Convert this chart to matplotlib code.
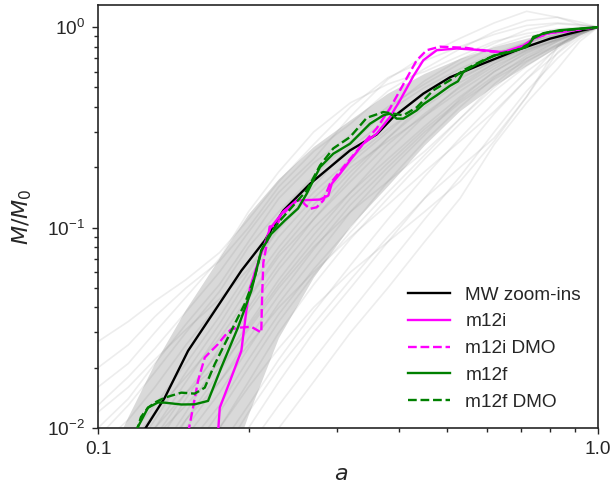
import matplotlib
matplotlib.use("Agg")
import matplotlib.pyplot as plt
from matplotlib.ticker import FixedLocator, NullFormatter, FixedFormatter, LogLocator

plt.rcParams['font.family'] = ['Liberation Sans', 'DejaVu Sans']
plt.rcParams['mathtext.fontset'] = 'dejavusans'

# ---------------- data ----------------
grid_a = [0.1, 0.115, 0.13, 0.15, 0.175, 0.2, 0.23, 0.27, 0.32, 0.38, 0.45, 0.53,
          0.62, 0.72, 0.83, 0.92, 1.0]

band_upper = [0.0054, 0.0113, 0.0209, 0.0388, 0.0699, 0.116, 0.174, 0.252, 0.343,
              0.465, 0.584, 0.695, 0.794, 0.875, 0.944, 0.974, 1.0]
band_lower = [0.0015, 0.0020, 0.0026, 0.0034, 0.0045, 0.0115, 0.028, 0.056, 0.101,
              0.160, 0.256, 0.38, 0.506, 0.639, 0.79, 0.905, 1.0]

halo_histories = [
    [0.027, 0.034, 0.043, 0.055, 0.075, 0.11, 0.17, 0.26, 0.40, 0.56, 0.68, 0.80, 0.92, 1.02, 1.05, 1.03, 1.0],
    [0.020, 0.026, 0.036, 0.050, 0.068, 0.10, 0.16, 0.24, 0.33, 0.48, 0.62, 0.78, 0.95, 1.08, 1.12, 1.06, 1.0],
    [0.016, 0.021, 0.030, 0.045, 0.070, 0.12, 0.19, 0.30, 0.42, 0.52, 0.60, 0.72, 0.85, 0.93, 0.98, 1.0, 1.0],
    [0.013, 0.018, 0.025, 0.038, 0.060, 0.095, 0.15, 0.22, 0.36, 0.55, 0.72, 0.88, 1.05, 1.20, 1.12, 1.03, 1.0],
    [0.010, 0.014, 0.021, 0.033, 0.052, 0.085, 0.14, 0.21, 0.29, 0.40, 0.52, 0.66, 0.80, 0.90, 0.96, 0.99, 1.0],
    [0.009, 0.013, 0.019, 0.030, 0.048, 0.080, 0.12, 0.18, 0.27, 0.38, 0.50, 0.62, 0.74, 0.84, 0.92, 0.97, 1.0],
    [0.012, 0.016, 0.022, 0.031, 0.044, 0.062, 0.10, 0.16, 0.26, 0.39, 0.54, 0.69, 0.83, 0.97, 1.04, 1.02, 1.0],
    [0.008, 0.011, 0.016, 0.026, 0.042, 0.068, 0.11, 0.17, 0.25, 0.35, 0.46, 0.58, 0.71, 0.83, 0.92, 0.97, 1.0],
    [0.006, 0.009, 0.013, 0.021, 0.036, 0.060, 0.098, 0.15, 0.22, 0.31, 0.42, 0.55, 0.68, 0.79, 0.89, 0.96, 1.0],
    [0.005, 0.007, 0.011, 0.019, 0.033, 0.056, 0.090, 0.14, 0.21, 0.30, 0.43, 0.57, 0.72, 0.84, 0.93, 0.98, 1.0],
    [0.004, 0.006, 0.010, 0.017, 0.030, 0.050, 0.080, 0.13, 0.20, 0.27, 0.36, 0.48, 0.62, 0.77, 0.88, 0.95, 1.0],
    [0.006, 0.008, 0.012, 0.018, 0.028, 0.045, 0.075, 0.12, 0.19, 0.28, 0.40, 0.53, 0.66, 0.77, 0.87, 0.95, 1.0],
    [0.003, 0.005, 0.008, 0.014, 0.025, 0.044, 0.072, 0.11, 0.17, 0.26, 0.37, 0.50, 0.64, 0.76, 0.87, 0.94, 1.0],
    [0.004, 0.006, 0.009, 0.015, 0.024, 0.040, 0.066, 0.11, 0.18, 0.28, 0.42, 0.56, 0.68, 0.78, 0.86, 0.94, 1.0],
    [0.003, 0.004, 0.007, 0.012, 0.022, 0.038, 0.062, 0.10, 0.15, 0.22, 0.32, 0.45, 0.60, 0.75, 0.87, 0.95, 1.0],
    [0.005, 0.007, 0.010, 0.015, 0.021, 0.033, 0.055, 0.092, 0.15, 0.24, 0.36, 0.51, 0.66, 0.80, 0.91, 0.97, 1.0],
    [0.002, 0.004, 0.006, 0.011, 0.019, 0.032, 0.052, 0.085, 0.14, 0.21, 0.31, 0.43, 0.57, 0.70, 0.82, 0.93, 1.0],
    [0.003, 0.004, 0.006, 0.010, 0.017, 0.028, 0.046, 0.078, 0.13, 0.20, 0.30, 0.42, 0.55, 0.68, 0.81, 0.92, 1.0],
    [0.002, 0.003, 0.005, 0.009, 0.015, 0.025, 0.042, 0.070, 0.12, 0.19, 0.29, 0.44, 0.60, 0.74, 0.86, 0.95, 1.0],
    [0.002, 0.003, 0.005, 0.008, 0.013, 0.022, 0.037, 0.062, 0.10, 0.17, 0.27, 0.40, 0.56, 0.72, 0.85, 0.94, 1.0],
    [0.002, 0.003, 0.004, 0.007, 0.012, 0.020, 0.034, 0.058, 0.095, 0.15, 0.23, 0.35, 0.50, 0.67, 0.82, 0.93, 1.0],
    [0.001, 0.002, 0.004, 0.006, 0.010, 0.017, 0.030, 0.052, 0.088, 0.14, 0.22, 0.33, 0.48, 0.64, 0.80, 0.92, 1.0],
    [0.001, 0.002, 0.003, 0.005, 0.008, 0.013, 0.022, 0.038, 0.065, 0.11, 0.18, 0.28, 0.42, 0.60, 0.78, 0.92, 1.0],
    [0.001, 0.0015, 0.002, 0.004, 0.006, 0.010, 0.017, 0.030, 0.050, 0.085, 0.14, 0.23, 0.37, 0.55, 0.74, 0.90, 1.0],
    [0.001, 0.0015, 0.002, 0.003, 0.005, 0.008, 0.013, 0.022, 0.038, 0.065, 0.11, 0.18, 0.30, 0.48, 0.70, 0.88, 1.0],
    [0.001, 0.0012, 0.0018, 0.0025, 0.004, 0.006, 0.010, 0.017, 0.030, 0.050, 0.085, 0.14, 0.26, 0.42, 0.62, 0.85, 1.0],
    [0.002, 0.003, 0.004, 0.006, 0.010, 0.016, 0.025, 0.040, 0.060, 0.085, 0.12, 0.17, 0.27, 0.45, 0.80, 0.95, 1.0],
    [0.001, 0.0015, 0.0025, 0.004, 0.007, 0.012, 0.020, 0.033, 0.055, 0.090, 0.14, 0.20, 0.28, 0.45, 0.75, 0.93, 1.0],
    [0.003, 0.005, 0.007, 0.011, 0.017, 0.026, 0.040, 0.060, 0.090, 0.13, 0.19, 0.27, 0.38, 0.55, 0.80, 0.95, 1.0],
    [0.004, 0.006, 0.009, 0.013, 0.020, 0.031, 0.050, 0.080, 0.12, 0.17, 0.24, 0.35, 0.52, 0.70, 0.85, 0.95, 1.0],
]

mw_a = [0.1213, 0.1360, 0.1514, 0.1712, 0.1935, 0.2155, 0.2348, 0.2655, 0.3192, 0.3609,
        0.3896, 0.4473, 0.5058, 0.5895, 0.6877, 0.8017, 0.9345, 1.0]
mw_m = [0.00902, 0.01417, 0.02427, 0.03846, 0.06095, 0.0861, 0.1216, 0.1654, 0.2427, 0.2917,
        0.3561, 0.4660, 0.5623, 0.6584, 0.7674, 0.8760, 0.9661, 1.0]

m12i_a = [0.1738, 0.1752, 0.1837, 0.1935, 0.1980, 0.2014, 0.2070, 0.2121, 0.2208, 0.2348,
          0.2497, 0.2780, 0.2888, 0.2934, 0.3048, 0.3192, 0.3393, 0.3609, 0.3837, 0.4018,
          0.4271, 0.4473, 0.4759, 0.5218, 0.5895, 0.6464, 0.7088, 0.7422, 0.8017, 0.8660,
          0.9345, 1.0]
m12i_m = [0.00944, 0.01263, 0.01718, 0.02427, 0.03846, 0.05012, 0.06237, 0.07413, 0.09886, 0.1202,
          0.1365, 0.1380, 0.1445, 0.1654, 0.1856, 0.2163, 0.2621, 0.2940, 0.3561, 0.4315,
          0.5689, 0.6839, 0.7674, 0.7826, 0.7674, 0.7499, 0.8085, 0.8760, 0.9386, 0.9550,
          0.9829, 1.0]

m12i_dmo_a = [0.1514, 0.1549, 0.1585, 0.1635, 0.1660, 0.1738, 0.1792, 0.1848, 0.1935, 0.2026,
              0.2121, 0.2128, 0.2141, 0.2173, 0.2205, 0.2273, 0.2348, 0.2497, 0.2535, 0.2594,
              0.2655, 0.2737, 0.2822, 0.2911, 0.3095, 0.3342, 0.3609, 0.3837, 0.4018, 0.4143,
              0.4340, 0.4544, 0.4831, 0.5463, 0.5988, 0.6368, 0.6771, 0.7201, 0.7540, 0.8017,
              0.8660, 1.0]
m12i_dmo_m = [0.00944, 0.01263, 0.01718, 0.02246, 0.02336, 0.02621, 0.02884, 0.03115, 0.03173, 0.03199,
              0.02995, 0.04315, 0.06683, 0.08128, 0.1012, 0.1023, 0.1175, 0.1365, 0.1396, 0.1303,
              0.1240, 0.1263, 0.1365, 0.1654, 0.2002, 0.2520, 0.3126, 0.3936, 0.4842, 0.5559,
              0.6839, 0.7674, 0.7992, 0.7880, 0.7586, 0.7499, 0.7674, 0.8222, 0.8861, 0.9333,
              0.9550, 1.0]

m12f_a = [0.1184, 0.1259, 0.1318, 0.1360, 0.1468, 0.1561, 0.1660, 0.1764, 0.1905, 0.2026,
          0.2121, 0.2221, 0.2363, 0.2512, 0.2614, 0.2695, 0.2780, 0.2955, 0.3192, 0.3499,
          0.3721, 0.3837, 0.3957, 0.4079, 0.4340, 0.4473, 0.4759, 0.5058, 0.5248, 0.5378,
          0.5719, 0.6177, 0.6668, 0.7201, 0.7422, 0.7777, 0.8395, 1.0]
m12f_m = [0.00944, 0.01263, 0.01341, 0.01338, 0.01310, 0.01313, 0.01365, 0.02002, 0.03173, 0.04842,
          0.07674, 0.09300, 0.1084, 0.1245, 0.1474, 0.1718, 0.2002, 0.2336, 0.2621, 0.3299,
          0.3631, 0.3703, 0.3496, 0.3496, 0.3846, 0.4121, 0.4571, 0.5099, 0.5370, 0.5975,
          0.6531, 0.7203, 0.7525, 0.7970, 0.8780, 0.9333, 0.9661, 1.0]

m12f_dmo_a = [0.1191, 0.1219, 0.1259, 0.1306, 0.1360, 0.1468, 0.1561, 0.1635, 0.1712, 0.1848,
              0.1965, 0.2058, 0.2121, 0.2188, 0.2312, 0.2458, 0.2614, 0.2780, 0.2955, 0.3192,
              0.3447, 0.3721, 0.3896, 0.4079, 0.4340, 0.4684, 0.5058, 0.5378, 0.5895, 0.6368,
              0.6877, 0.7311, 0.7422, 0.8017, 1.0]
m12f_dmo_m = [0.00944, 0.01135, 0.01263, 0.01349, 0.01417, 0.01501, 0.01484, 0.01590, 0.02082, 0.03055,
              0.04154, 0.05642, 0.07674, 0.09016, 0.1084, 0.1288, 0.1531, 0.2042, 0.2483, 0.2828,
              0.3528, 0.3771, 0.3703, 0.3631, 0.3981, 0.4842, 0.5433, 0.6095, 0.6839, 0.7389,
              0.7674, 0.8288, 0.8944, 0.9473, 1.0]

x_ticks = [0.1, 1.0]
x_tick_labels = ['0.1', '1.0']

# ---------------- plot ----------------
ink = '#262626'
fig = plt.figure(figsize=(6.13, 4.84), dpi=100)
ax = fig.add_axes([98 / 613, 1 - 428 / 484, 500 / 613, 423 / 484])

ax.fill_between(grid_a, band_lower, band_upper, color='#d9d9d9', lw=0, zorder=1)
for h in halo_histories:
    ax.plot(grid_a, h, color='0.5', alpha=0.14, lw=1.2, zorder=2)

ax.plot(mw_a, mw_m, color='black', lw=1.7, label='MW zoom-ins', zorder=5)
ax.plot(m12i_a, m12i_m, color='magenta', lw=1.7, label='m12i', zorder=5)
ax.plot(m12i_dmo_a, m12i_dmo_m, color='magenta', lw=1.7, ls='--', label='m12i DMO', zorder=5)
ax.plot(m12f_a, m12f_m, color='green', lw=1.7, label='m12f', zorder=5)
ax.plot(m12f_dmo_a, m12f_dmo_m, color='green', lw=1.7, ls='--', label='m12f DMO', zorder=5)

ax.set_xscale('log')
ax.set_yscale('log')
ax.set_xlim(0.1, 1.0)
ax.set_ylim(0.01, 1.29)

ax.xaxis.set_major_locator(FixedLocator(x_ticks))
ax.xaxis.set_major_formatter(FixedFormatter(x_tick_labels))
ax.xaxis.set_minor_locator(FixedLocator([0.2, 0.3, 0.4, 0.5, 0.6, 0.7, 0.8, 0.9]))
ax.xaxis.set_minor_formatter(NullFormatter())
ax.yaxis.set_major_locator(LogLocator(base=10))
ax.yaxis.set_minor_locator(LogLocator(base=10, subs=range(2, 10)))
ax.yaxis.set_minor_formatter(NullFormatter())

ax.tick_params(which='both', direction='out', color=ink, labelcolor=ink, labelsize=13.7, width=1.0)
ax.tick_params(which='major', length=4.5, pad=5)
ax.tick_params(which='minor', length=3.2)
for s in ax.spines.values():
    s.set_color(ink)
    s.set_linewidth(1.2)

ax.set_xlabel('$a$', fontsize=16, color=ink)
ax.xaxis.set_label_coords(0.486, -0.085)
ax.set_ylabel('$M/M_0$', fontsize=16, color=ink)
ax.yaxis.set_label_coords(-0.128, 0.5)

leg = ax.legend(loc='lower right', fontsize=13.7, frameon=True, framealpha=1.0,
                edgecolor='none', facecolor='white', handlelength=2.2,
                handletextpad=0.8, labelspacing=0.5, borderaxespad=0.5)
for t in leg.get_texts():
    t.set_color(ink)

fig.savefig('out.png', dpi=100)
